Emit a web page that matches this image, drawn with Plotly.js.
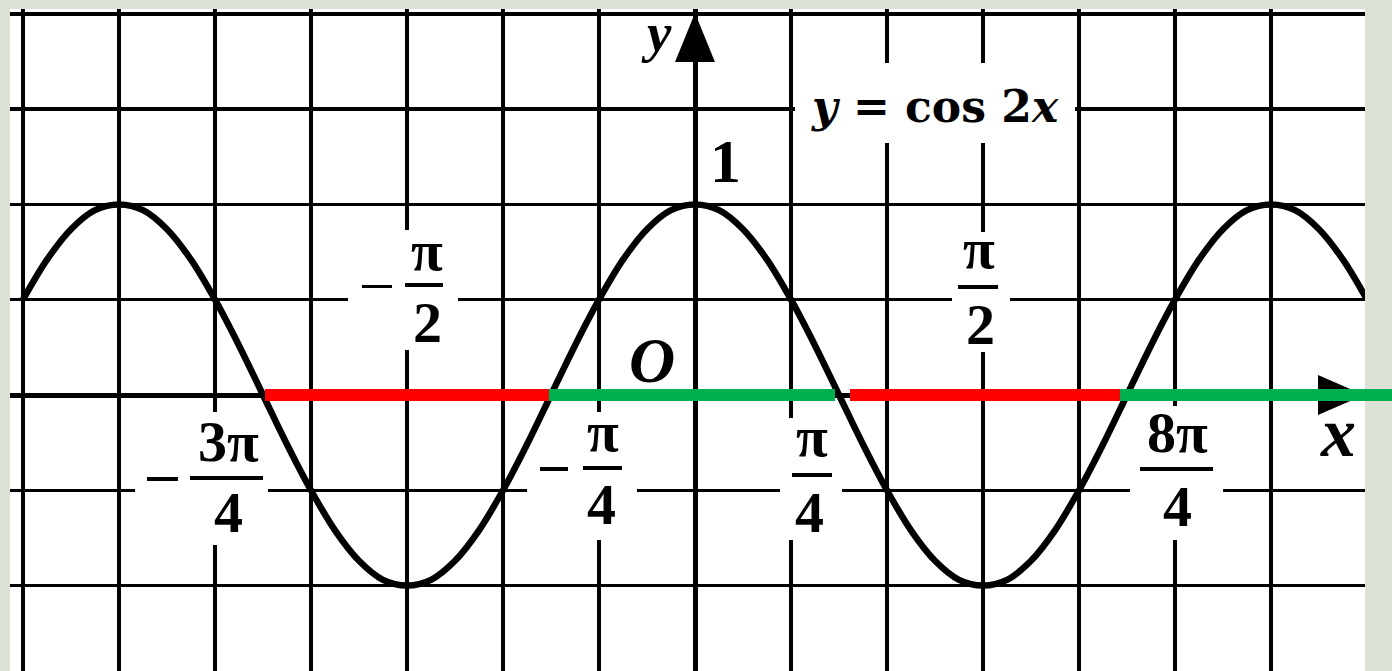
<!DOCTYPE html>
<html><head><meta charset="utf-8">
<script src="https://cdn.plot.ly/plotly-3.0.1.min.js"></script>
<style>html,body{margin:0;padding:0;background:#dbe1d5;}#chart{width:1392px;height:671px;}</style>
</head><body><div id="chart"></div>
<script>
const PI = Math.PI;
// y = cos 2x (x given in units of pi)
const curveXPi = [-1.1667,-1.125,-1.0833,-1.0417,-1,-0.9583,-0.9167,-0.875,-0.8333,-0.7917,-0.75,-0.7083,-0.6667,-0.625,
                  -0.5833,-0.5417,-0.5,-0.4583,-0.4167,-0.375,-0.3333,-0.2917,-0.25,-0.2083,-0.1667,-0.125,-0.0833,-0.0417,0,
                  0.0417,0.0833,0.125,0.1667,0.2083,0.25,0.2917,0.3333,0.375,0.4167,0.4583,0.5,0.5417,0.5833,
                  0.625,0.6667,0.7083,0.75,0.7917,0.8333,0.875,0.9167,0.9583,1,1.0417,1.0833,1.125,1.1667];
const curveY = [0.5,0.71,0.87,0.97,1,0.97,0.87,0.71,0.5,0.26,0,-0.26,-0.5,-0.71,
                -0.87,-0.97,-1,-0.97,-0.87,-0.71,-0.5,-0.26,0,0.26,0.5,0.71,0.87,0.97,1,
                0.97,0.87,0.71,0.5,0.26,0,-0.26,-0.5,-0.71,-0.87,-0.97,-1,-0.97,-0.87,
                -0.71,-0.5,-0.26,0,0.26,0.5,0.71,0.87,0.97,1,0.97,0.87,0.71,0.5];
// intervals on the x axis (units of pi): red where cos 2x < 0, green where cos 2x > 0
const redFromPi = [-0.7465, 0.2691];
const redToPi   = [-0.2535, 0.7378];
const greenFromPi = [-0.2535, 0.7378];
const greenToPi   = [0.2431, 1.2];
const equationText = '<i>y</i> = cos 2<i>x</i>';

const X_RANGE = [-3.7361, 3.6543];
const Y_RANGE = [-1.4481, 2.0252];

function segs(from, to) {
  const xs = [], ys = [];
  for (let i = 0; i < from.length; i++) {
    xs.push(from[i] * PI, to[i] * PI, null);
    ys.push(0, 0, null);
  }
  return {xs, ys};
}
const red = segs(redFromPi, redToPi);
const green = segs(greenFromPi, greenToPi);

const traces = [
  {x: curveXPi.map(v => v * PI), y: curveY, mode: 'lines', line: {color: '#000', width: 6.5, shape: 'spline', smoothing: 1}, hoverinfo: 'skip'},
  {x: red.xs, y: red.ys, mode: 'lines', line: {color: '#ff0000', width: 12}, hoverinfo: 'skip'},
  {x: green.xs, y: green.ys, mode: 'lines', line: {color: '#00b050', width: 12}, hoverinfo: 'skip'}
];

const SERIF = 'Liberation Serif, Times New Roman, serif';
function txt(text, x, y, xs, ys, size, italic, family) {
  return {x, y, xref: 'x', yref: 'y', text, showarrow: false, xanchor: 'center', yanchor: 'middle',
    xshift: xs, yshift: ys,
    font: {family: family || SERIF, size, color: '#000', weight: 'bold', style: italic ? 'italic' : 'normal'}};
}
function box(x, y, xs, ys, w, h, color) {
  return {x, y, xref: 'x', yref: 'y', text: ' ', showarrow: false, xanchor: 'center', yanchor: 'middle',
    xshift: xs, yshift: ys, width: w, height: h, bgcolor: color || '#ffffff',
    borderpad: 0, borderwidth: 0, font: {size: 1}};
}
const F = 58;
const boxes = [
  box(-PI/2, 0.5, -4, 10, 110, 120),
  box(PI/2, 0.5, -2, 8, 58, 120),
  box(-3*PI/4, -0.5, -61.5, 2, 133, 47),
  box(-3*PI/4, -0.5, -45.5, 12, 45, 133),
  box(-PI/4, -0.5, 31, 2, 110, 47),
  box(-PI/4, -0.5, 51.5, 14, 45, 128),
  box(PI/4, -0.5, -28, 11, 62, 122),
  box(3*PI/4, -0.5, 49.5, 17, 93, 134),
  box(PI/3, 1.5, 48, 6, 280, 80)
];
const bars = [
  box(-PI/2, 0.5, 17, 15, 38, 4, '#000'),
  box(-PI/2, 0.5, -30, 13, 30, 3, '#000'),
  box(PI/2, 0.5, -5, 13, 40, 4, '#000'),
  box(-3*PI/4, -0.5, -36.5, 12, 73, 4, '#000'),
  box(-3*PI/4, -0.5, -100.5, 11, 31, 4, '#000'),
  box(-PI/4, -0.5, 51.5, 22, 39, 4, '#000'),
  box(-PI/4, -0.5, 3, 21, 28, 4, '#000'),
  box(PI/4, -0.5, -27, 15, 40, 4, '#000'),
  box(3*PI/4, -0.5, 49.5, 21, 73, 4, '#000')
];
const texts = [
  txt('π', -PI/2, 0.5, 20, 49, F),
  txt('2', -PI/2, 0.5, 20, -23, F),
  txt('π', PI/2, 0.5, -4, 51, F),
  txt('2', PI/2, 0.5, -3, -25, F),
  txt('3π', -3*PI/4, -0.5, -35, 49, F),
  txt('4', -3*PI/4, -0.5, -35, -22, F),
  txt('π', -PI/4, -0.5, 52, 59, F),
  txt('4', -PI/4, -0.5, 50, -14, F),
  txt('π', PI/4, -0.5, -27, 54, F),
  txt('4', PI/4, -0.5, -30, -22, F),
  txt('8π', 3*PI/4, -0.5, 50, 58, F),
  txt('4', 3*PI/4, -0.5, 50, -16, F),
  txt('1', 0, 1, 30, 43, 62),
  txt('O', 0, 0, -43, 35, 64, true),
  txt('y', 0, 2, -39, -19, 55, true),
  txt('x', PI, 0, 67, -37, 70, true),
  txt(equationText, PI/3, 1.5, 47.5, 3, 44, false, 'DejaVu Serif, serif')
];

const yZeroPaper = (0 - Y_RANGE[0]) / (Y_RANGE[1] - Y_RANGE[0]);
const shapes = [
  {type: 'path', xref: 'x', yref: 'y', layer: 'between', path: 'M -0.109,1.747 L 0,2.004 L 0.109,1.747 Z', fillcolor: '#000', line: {width: 0}},
  {type: 'path', xref: 'x', yref: 'y', layer: 'between', path: 'M 3.398,0.105 L 3.649,0 L 3.398,-0.105 Z', fillcolor: '#000', line: {width: 0}},
  {type: 'line', xref: 'paper', yref: 'paper', x0: 0.999, x1: 1.03, y0: yZeroPaper, y1: yZeroPaper, line: {color: '#00b050', width: 12}}
];

const layout = {
  width: 1392, height: 671,
  margin: {l: 10, r: 27, t: 9, b: 0, pad: 0},
  paper_bgcolor: '#dbe1d5', plot_bgcolor: '#ffffff',
  showlegend: false,
  xaxis: {range: X_RANGE, tick0: 0, dtick: PI/6, showgrid: true, gridcolor: '#000', gridwidth: 3.5,
    zeroline: true, zerolinecolor: '#000', zerolinewidth: 5, showticklabels: false, ticks: '', showline: false, fixedrange: true},
  yaxis: {range: Y_RANGE, tick0: 0, dtick: 0.5, showgrid: true, gridcolor: '#000', gridwidth: 3.5,
    zeroline: true, zerolinecolor: '#000', zerolinewidth: 5, showticklabels: false, ticks: '', showline: false, fixedrange: true},
  shapes,
  annotations: boxes.concat(bars, texts)
};
Plotly.newPlot('chart', traces, layout, {displayModeBar: false, staticPlot: true});
</script>
</body></html>
